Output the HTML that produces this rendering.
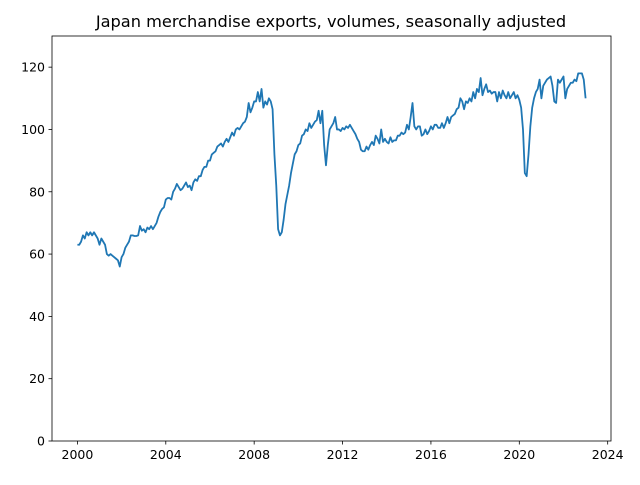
<!DOCTYPE html>
<html><head><meta charset="utf-8"><style>
body{margin:0;background:#fff;font-family:"Liberation Sans","DejaVu Sans",sans-serif}
svg text{font-family:"DejaVu Sans","Liberation Sans",sans-serif}
</style></head><body>
<svg id="chart" width="640" height="480" xmlns="http://www.w3.org/2000/svg">
<text x="331" y="27" text-anchor="middle" font-size="16.2">Japan merchandise exports, volumes, seasonally adjusted</text>
<g id="grid"></g>
<path id="line" fill="none" stroke="#1f77b4" stroke-width="1.8" stroke-linejoin="round"/>
<rect x="52" y="36" width="559" height="405" fill="none" stroke="#000" stroke-width="0.8"/>
</svg>
<script>
const startYear = 2000;
const values = [
63,63,64,66,65,67,66,67,66,67,66,65,
63,65,64,63,60,59.5,60,59.5,59,58.5,58,56,
59,60,62,63,64,66,66,65.8,65.8,66,69,
67.5,68,67,68.5,68,69,68,69,70,72,73.5,74.5,
75,77.5,78,78,77.5,80,81,82.5,81.5,80.5,81,82,
83,81.5,82,80.5,83,84,83.5,85,85,87,88,
88,90,90,92,92.5,93,94.5,95,95.5,94.5,96,97,
96,97.5,99,98,100,100.5,100,101,102,102.5,104,108.5,
105.5,107,109,109,112,109,113,107,109,108,110,
109,106.5,92,82,68,66,67,71,76,79,82,86,
89,92,93,95,95.5,98,98.5,100,99.5,102,100.5,101.5,
102.5,103,106,102,106,95,88.5,95,100,101,102,
104,100,100,99.5,100.5,100,101,100.5,101.5,100.5,99.5,98.5,
97,96,93.5,93,93,94.5,93.5,95,96,95,98,97,
95.5,100,96,97,96,95.5,97.5,96,96.5,96.5,98,
98,99,98.5,99,101.5,100,104,108.5,101,100,101,101,
98,98.5,100,98.5,99.5,101,100,101.5,101.5,100.5,100.5,102,
100.5,102,104,102,104,104.5,105,106.5,107,110,109,
106.5,109,108.5,110,109,112,110,113,112,116.5,111,113,
114.5,112,112.5,111.5,112,112,109,112,110,112.5,111,110,
112,110,111,112,110,111,
109.5,107,100,86,85,92,101,107,110,112,113,116,
110,114,115,116,116.5,117,114,109,108.5,116,115,116,
117,110,113,114,115,115,116,115.5,118,118,118,116,
110
];
const xTicks = [2000,2004,2008,2012,2016,2020,2024];
const yTicks = [0,20,40,60,80,100,120];
const X0=52,X1=611,Y0=441,Y1=36,xmin=1998.85,xmax=2024.15,ymin=0,ymax=130;
const xs=t=>X0+(t-xmin)/(xmax-xmin)*(X1-X0);
const ys=v=>Y0-(v-ymin)/(ymax-ymin)*(Y0-Y1);
const NS="http://www.w3.org/2000/svg";
let d="";
values.forEach((v,i)=>{const t=startYear+i/12;d+=(i?"L":"M")+xs(t).toFixed(2)+","+ys(v).toFixed(2);});
document.getElementById("line").setAttribute("d",d);
const g=document.getElementById("grid");
xTicks.forEach(t=>{
 const l=document.createElementNS(NS,"line");
 
 
 l.setAttribute("x1",xs(t));l.setAttribute("x2",xs(t));l.setAttribute("y1",Y0);l.setAttribute("y2",Y0+3.5);l.setAttribute("stroke","#000");l.setAttribute("stroke-width","0.8");g.appendChild(l);
 const tx=document.createElementNS(NS,"text");
 
 
 tx.setAttribute("x",xs(t));tx.setAttribute("y",Y0+18);tx.setAttribute("text-anchor","middle");tx.setAttribute("font-size","12.5");tx.textContent=t;g.appendChild(tx);
});
yTicks.forEach(v=>{
 const l=document.createElementNS(NS,"line");
 
 
 l.setAttribute("x1",X0-3.5);l.setAttribute("x2",X0);l.setAttribute("y1",ys(v));l.setAttribute("y2",ys(v));l.setAttribute("stroke","#000");l.setAttribute("stroke-width","0.8");g.appendChild(l);
 const tx=document.createElementNS(NS,"text");
 
 
 tx.setAttribute("x",X0-7);tx.setAttribute("y",ys(v)+4.5);tx.setAttribute("text-anchor","end");tx.setAttribute("font-size","12.5");tx.textContent=v;g.appendChild(tx);
});
</script>
</body></html>
